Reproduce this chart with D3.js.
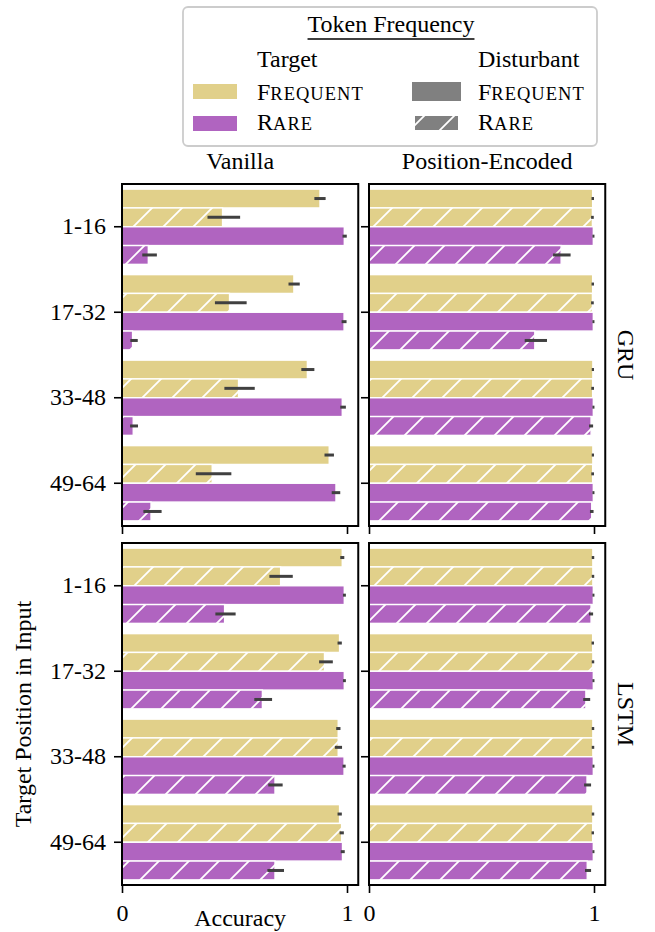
<!DOCTYPE html>
<html><head><meta charset="utf-8">
<script src="https://cdn.jsdelivr.net/npm/d3@7"></script>
<style>
body{margin:0;background:#fff}
svg{display:block}
text{font-family:"Liberation Serif","DejaVu Serif",serif;fill:#000}
</style>
</head><body>
<svg id="chart" width="655" height="932"></svg>
<script>
// ---------------- DATA ----------------
const positions = ["1-16", "17-32", "33-48", "49-64"];
const columns = ["Vanilla", "Position-Encoded"];
const rows = ["GRU", "LSTM"];
// series key = target frequency + disturbant frequency (F = Frequent, R = Rare)
const seriesKeys = ["FF", "FR", "RF", "RR"];
const xTickValues = [0, 1];
const xLabels = ["0", "1"];

// GRU, Vanilla
const gruVanillaFF = [0.880, 0.764, 0.824, 0.921];
const gruVanillaFFci = [[0.855, 0.905], [0.740, 0.790], [0.797, 0.855], [0.900, 0.942]];
const gruVanillaFR = [0.447, 0.478, 0.518, 0.401];
const gruVanillaFRci = [[0.380, 0.525], [0.413, 0.554], [0.455, 0.590], [0.328, 0.486]];
const gruVanillaRF = [0.988, 0.987, 0.979, 0.951];
const gruVanillaRFci = [[0.980, 0.999], [0.976, 0.998], [0.970, 0.995], [0.932, 0.970]];
const gruVanillaRR = [0.117, 0.047, 0.050, 0.129];
const gruVanillaRRci = [[0.090, 0.155], [0.037, 0.070], [0.036, 0.071], [0.095, 0.176]];

// GRU, Position-Encoded
const gruPosEncFF = [0.994, 0.994, 0.995, 0.995];
const gruPosEncFFci = [[0.989, 1.000], [0.989, 1.000], [0.990, 1.000], [0.990, 1.000]];
const gruPosEncFR = [0.993, 0.993, 0.994, 0.994];
const gruPosEncFRci = [[0.987, 0.999], [0.987, 0.999], [0.988, 1.000], [0.988, 1.000]];
const gruPosEncRF = [0.997, 0.997, 0.997, 0.997];
const gruPosEncRFci = [[0.993, 1.002], [0.993, 1.002], [0.993, 1.002], [0.993, 1.002]];
const gruPosEncRR = [0.854, 0.737, 0.987, 0.990];
const gruPosEncRRci = [[0.818, 0.896], [0.692, 0.791], [0.978, 0.996], [0.982, 0.998]];

// LSTM, Vanilla
const lstmVanillaFF = [0.979, 0.967, 0.961, 0.967];
const lstmVanillaFFci = [[0.970, 0.988], [0.958, 0.977], [0.952, 0.971], [0.958, 0.977]];
const lstmVanillaFR = [0.705, 0.900, 0.961, 0.976];
const lstmVanillaFRci = [[0.655, 0.759], [0.876, 0.937], [0.946, 0.978], [0.967, 0.986]];
const lstmVanillaRF = [0.988, 0.988, 0.987, 0.980];
const lstmVanillaRFci = [[0.982, 0.995], [0.982, 0.995], [0.980, 0.994], [0.972, 0.990]];
const lstmVanillaRR = [0.456, 0.624, 0.680, 0.680];
const lstmVanillaRRci = [[0.415, 0.505], [0.588, 0.667], [0.650, 0.714], [0.646, 0.720]];

// LSTM, Position-Encoded
const lstmPosEncFF = [0.995, 0.994, 0.995, 0.995];
const lstmPosEncFFci = [[0.990, 1.001], [0.989, 1.000], [0.990, 1.001], [0.990, 1.001]];
const lstmPosEncFR = [0.995, 0.995, 0.995, 0.994];
const lstmPosEncFRci = [[0.990, 1.001], [0.990, 1.001], [0.990, 1.001], [0.989, 1.000]];
const lstmPosEncRF = [0.997, 0.997, 0.997, 0.997];
const lstmPosEncRFci = [[0.993, 1.002], [0.993, 1.002], [0.993, 1.002], [0.993, 1.002]];
const lstmPosEncRR = [0.987, 0.964, 0.969, 0.970];
const lstmPosEncRRci = [[0.978, 0.996], [0.952, 0.983], [0.956, 0.987], [0.960, 0.987]];

// --------------- build table ---------------
const panels = [
  {row: 0, col: 0, vals: {FF: gruVanillaFF, FR: gruVanillaFR, RF: gruVanillaRF, RR: gruVanillaRR},
   ci: {FF: gruVanillaFFci, FR: gruVanillaFRci, RF: gruVanillaRFci, RR: gruVanillaRRci}},
  {row: 0, col: 1, vals: {FF: gruPosEncFF, FR: gruPosEncFR, RF: gruPosEncRF, RR: gruPosEncRR},
   ci: {FF: gruPosEncFFci, FR: gruPosEncFRci, RF: gruPosEncRFci, RR: gruPosEncRRci}},
  {row: 1, col: 0, vals: {FF: lstmVanillaFF, FR: lstmVanillaFR, RF: lstmVanillaRF, RR: lstmVanillaRR},
   ci: {FF: lstmVanillaFFci, FR: lstmVanillaFRci, RF: lstmVanillaRFci, RR: lstmVanillaRRci}},
  {row: 1, col: 1, vals: {FF: lstmPosEncFF, FR: lstmPosEncFR, RF: lstmPosEncRF, RR: lstmPosEncRR},
   ci: {FF: lstmPosEncFFci, FR: lstmPosEncFRci, RF: lstmPosEncRFci, RR: lstmPosEncRRci}}
];

// --------------- style ---------------
const targetColor = {F: "#E1D08A", R: "#B064C0"};
const errColor = "#404040";
const FS = 24;

const svg = d3.select("#chart");
const defs = svg.append("defs");
const pat = defs.append("pattern").attr("id", "hatch")
  .attr("patternUnits", "userSpaceOnUse").attr("width", 30).attr("height", 30);
pat.append("path")
  .attr("d", "M-15,15 L15,-15 M0,30 L30,0 M15,45 L45,15")
  .attr("stroke", "#fff").attr("stroke-width", 1.8).attr("fill", "none");

const colX = [122, 369];
const rowY = [184, 543];
const panelW = 236.25, panelH = 342;

panels.forEach(p => {
  const x0 = colX[p.col], y0 = rowY[p.row];
  const x = d3.scaleLinear().domain([0, 1.05]).range([x0, x0 + panelW]);
  const y = d3.scaleBand().domain(positions).range([y0, y0 + panelH]).padding(0);
  const bw = y.bandwidth();
  const ys = d3.scaleBand().domain(seriesKeys).range([0.06 * bw, 0.94 * bw]).padding(0);
  const g = svg.append("g");

  const recs = [];
  seriesKeys.forEach(k => positions.forEach((pos, i) => {
    recs.push({k, pos, v: p.vals[k][i], lo: p.ci[k][i][0], hi: p.ci[k][i][1]});
  }));

  g.selectAll("rect.bar").data(recs).join("rect").attr("class", "bar")
    .attr("x", x(0)).attr("y", d => y(d.pos) + ys(d.k))
    .attr("width", d => x(d.v) - x(0)).attr("height", ys.bandwidth())
    .attr("fill", d => targetColor[d.k[0]])
    .attr("stroke", "#fff").attr("stroke-width", 1.4);

  g.selectAll("rect.hatch").data(recs.filter(d => d.k[1] === "R")).join("rect").attr("class", "hatch")
    .attr("x", x(0)).attr("y", d => y(d.pos) + ys(d.k))
    .attr("width", d => x(d.v) - x(0)).attr("height", ys.bandwidth())
    .attr("fill", "url(#hatch)");

  g.selectAll("line.err").data(recs).join("line").attr("class", "err")
    .attr("x1", d => x(d.lo)).attr("x2", d => x(d.hi))
    .attr("y1", d => y(d.pos) + ys(d.k) + ys.bandwidth() / 2)
    .attr("y2", d => y(d.pos) + ys(d.k) + ys.bandwidth() / 2)
    .attr("stroke", errColor).attr("stroke-width", 3);

  // y axis
  const ya = g.append("g").attr("transform", `translate(${x0},0)`)
    .call(d3.axisLeft(y).tickSize(8).tickPadding(8).tickFormat(p.col === 0 ? (d => d) : () => ""));
  ya.select(".domain").remove();
  ya.selectAll(".tick line").attr("stroke", "#000").attr("stroke-width", 1.6);
  ya.selectAll("text").attr("font-family", '"Liberation Serif",serif').attr("font-size", FS).attr("fill", "#000");

  // x axis
  const xa = g.append("g").attr("transform", `translate(0,${y0 + panelH})`)
    .call(d3.axisBottom(x).tickValues(xTickValues).tickSize(8).tickPadding(11)
      .tickFormat((d, i) => p.row === 1 ? xLabels[i] : ""));
  xa.select(".domain").remove();
  xa.selectAll(".tick line").attr("stroke", "#000").attr("stroke-width", 1.6);
  xa.selectAll("text").attr("font-family", '"Liberation Serif",serif').attr("font-size", FS).attr("fill", "#000");

  // frame
  g.append("rect").attr("x", x0).attr("y", y0).attr("width", panelW).attr("height", panelH)
    .attr("fill", "none").attr("stroke", "#000").attr("stroke-width", 2);
});

// column titles
columns.forEach((c, i) => {
  svg.append("text").attr("x", colX[i] + panelW / 2).attr("y", 169)
    .attr("text-anchor", "middle").attr("font-size", FS).text(c);
});
// row titles
rows.forEach((r, i) => {
  svg.append("text").attr("transform", `translate(618,${rowY[i] + panelH / 2}) rotate(90)`)
    .attr("text-anchor", "middle").attr("font-size", FS).text(r);
});
// axis labels
svg.append("text").attr("transform", `translate(31,${rowY[1] + panelH / 2}) rotate(-90)`)
  .attr("text-anchor", "middle").attr("font-size", FS).text("Target Position in Input");
svg.append("text").attr("x", colX[0] + panelW / 2).attr("y", 926)
  .attr("text-anchor", "middle").attr("font-size", FS).text("Accuracy");

// --------------- legend ---------------
const lg = svg.append("g");
lg.append("rect").attr("x", 183).attr("y", 7).attr("width", 414).attr("height", 139)
  .attr("rx", 5).attr("fill", "#fff").attr("stroke", "#cccccc").attr("stroke-width", 1.8);
const title = lg.append("text").attr("x", 391).attr("y", 32).attr("text-anchor", "middle")
  .attr("font-size", FS).text("Token Frequency");
const tl = title.node().getComputedTextLength();
lg.append("line").attr("x1", 391 - tl / 2).attr("x2", 391 + tl / 2).attr("y1", 39).attr("y2", 39)
  .attr("stroke", "#000").attr("stroke-width", 1.6);
lg.append("text").attr("x", 257).attr("y", 67).attr("font-size", FS).text("Target");
lg.append("text").attr("x", 478).attr("y", 67).attr("font-size", FS).text("Disturbant");

function smallCaps(x, y, word) {
  const t = lg.append("text").attr("x", x).attr("y", y).attr("font-size", FS);
  t.append("tspan").text(word[0]);
  t.append("tspan").attr("font-size", 18.5).attr("letter-spacing", 1).text(word.slice(1).toUpperCase());
}
const legendLabels = ["Frequent", "Rare"];
lg.append("rect").attr("x", 193).attr("y", 84).attr("width", 44).attr("height", 15).attr("fill", targetColor.F);
lg.append("rect").attr("x", 193).attr("y", 116).attr("width", 44).attr("height", 15).attr("fill", targetColor.R);
smallCaps(257, 100, legendLabels[0]);
smallCaps(257, 130, legendLabels[1]);
lg.append("rect").attr("x", 412).attr("y", 82).attr("width", 49).attr("height", 19).attr("fill", "#808080");
lg.append("rect").attr("x", 415).attr("y", 116).attr("width", 43).attr("height", 14).attr("fill", "#808080");
lg.append("rect").attr("x", 415).attr("y", 116).attr("width", 43).attr("height", 14).attr("fill", "url(#hatch)");
smallCaps(478, 100, legendLabels[0]);
smallCaps(478, 130, legendLabels[1]);
</script>
</body></html>
